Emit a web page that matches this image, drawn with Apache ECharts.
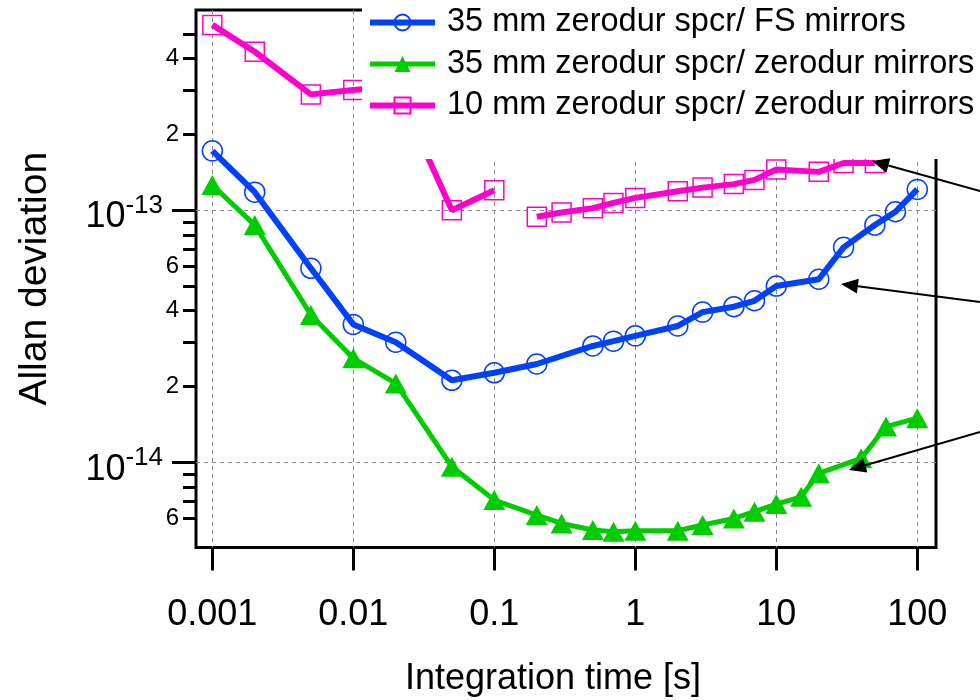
<!DOCTYPE html>
<html><head><meta charset="utf-8">
<script src="https://cdn.jsdelivr.net/npm/echarts@6/dist/echarts.min.js"></script>
<style>html,body{margin:0;padding:0;background:#fff}#c{width:980px;height:700px}</style>
</head><body><div id="c"></div>
<script>
// ---- data ----
const tauBlue  = [0.001,0.002,0.005,0.01,0.02,0.05,0.1,0.2,0.5,0.7,1,2,3,5,7,10,20,30,50,70,100];
const adevBlue = [1.72e-13,1.18e-13,5.89e-14,3.53e-14,3.0e-14,2.12e-14,2.27e-14,2.46e-14,2.90e-14,3.03e-14,3.18e-14,3.48e-14,3.95e-14,4.15e-14,4.38e-14,5.01e-14,5.33e-14,7.13e-14,8.74e-14,9.87e-14,1.21e-13];

const tauGreen  = [0.001,0.002,0.005,0.01,0.02,0.05,0.1,0.2,0.3,0.5,0.7,1,2,3,5,7,10,15,20,40,60,100];
const adevGreen = [1.26e-13,8.74e-14,3.85e-14,2.59e-14,2.06e-14,9.63e-15,7.11e-15,6.2e-15,5.74e-15,5.41e-15,5.32e-15,5.37e-15,5.37e-15,5.66e-15,6.01e-15,6.39e-15,6.85e-15,7.32e-15,9.07e-15,1.04e-14,1.39e-14,1.50e-14];

const tauMagA  = [0.001,0.002,0.005,0.01,0.02,0.05,0.1];
const adevMagA = [5.43e-13,4.25e-13,2.88e-13,3.0e-13,3.1e-13,1.0e-13,1.20e-13];
const tauMagB  = [0.2,0.3,0.5,0.7,1,2,3,5,7,10,20,30,50];
const adevMagB = [9.43e-14,9.8e-14,1.02e-13,1.07e-13,1.12e-13,1.19e-13,1.23e-13,1.27e-13,1.32e-13,1.45e-13,1.42e-13,1.54e-13,1.54e-13];

const seriesNames = ['35 mm zerodur spcr/ FS mirrors','35 mm zerodur spcr/ zerodur mirrors','10 mm zerodur spcr/ zerodur mirrors'];

const xTickValues = [0.001,0.01,0.1,1,10,100];
const xTickLabels = ['0.001','0.01','0.1','1','10','100'];
const yMajorTicks = [1e-14,1e-13];
const yMinorTicks = [6e-15,7e-15,8e-15,9e-15,2e-14,3e-14,4e-14,5e-14,6e-14,7e-14,8e-14,9e-14,2e-13,3e-13,4e-13,5e-13];
const yMinorLabelValues = [6e-15,2e-14,4e-14,6e-14,2e-13,4e-13];
const yMinorLabels = ['6','2','4','6','2','4'];

const X_MIN = 7.66e-4, X_MAX = 135.7, Y_MIN = 4.61e-15, Y_MAX = 6.22e-13;

// ---- styles ----
const BLUE = '#0040ff', GREEN = '#00cc00', MAG = '#ff00cc';
const FONT = 'Liberation Sans, Arial, sans-serif';
const GRIDLINE = {show: true, lineStyle: {color: '#888', width: 1, type: [4, 4]}};
const lg = Math.log10;
const findIdx = (arr, v) => arr.findIndex(t => Math.abs(lg(t) - v) < 1e-6);

const chart = echarts.init(document.getElementById('c'), null, {renderer: 'canvas'});

function arrow(x1, y1, x2, y2) {
  const dx = x2 - x1, dy = y2 - y1, L = Math.hypot(dx, dy);
  const ux = dx / L, uy = dy / L, hl = 17, hw = 7.5;
  const bx = x2 - ux * hl, by = y2 - uy * hl;
  return [
    {type: 'line', z: 100, shape: {x1: x1, y1: y1, x2: bx, y2: by}, style: {stroke: '#000', lineWidth: 2}},
    {type: 'polygon', z: 100, shape: {points: [[x2, y2], [bx - uy * hw, by + ux * hw], [bx + uy * hw, by - ux * hw]]}, style: {fill: '#000'}}
  ];
}

const magData = tauMagA.map((t, i) => [t, adevMagA[i]])
  .concat([[tauMagB[0], '-']])
  .concat(tauMagB.map((t, i) => [t, adevMagB[i]]));

const option = {
  animation: false,
  backgroundColor: '#fff',
  textStyle: {fontFamily: FONT},
  grid: {left: 196, right: 44, top: 10, bottom: 152.5, show: true, borderColor: '#000', borderWidth: 3, backgroundColor: 'transparent', outerBoundsMode: 'none', containLabel: false},
  legend: {
    orient: 'vertical', left: 362, top: 0,
    padding: [6, 20, 37, 5],
    backgroundColor: '#fff',
    itemWidth: 65, itemHeight: 20, itemGap: 8.5,
    selectedMode: false,
    lineStyle: {width: 'inherit'},
    textStyle: {fontSize: 32.5, fontFamily: FONT, color: '#000', lineHeight: 32, padding: [0, 0, 0, 7]},
    data: seriesNames
  },
  xAxis: [
    {type: 'log', min: X_MIN, max: X_MAX, position: 'bottom',
     axisLine: {show: false}, axisTick: {show: false}, axisLabel: {show: false}, splitLine: {show: false},
     name: 'Integration time [s]', nameLocation: 'middle', nameGap: 114,
     nameTextStyle: {fontSize: 36, fontFamily: FONT, color: '#000', padding: [0, 26, 0, 0]}},
    {type: 'value', min: lg(X_MIN), max: lg(X_MAX), position: 'bottom',
     axisLine: {show: false},
     axisTick: {show: true, length: 23, customValues: xTickValues.map(lg), lineStyle: {color: '#000', width: 3}},
     axisLabel: {show: true, customValues: xTickValues.map(lg), margin: 50, fontSize: 36, fontFamily: FONT, color: '#000',
       formatter: v => { const i = findIdx(xTickValues, v); return i >= 0 ? xTickLabels[i] : ''; }},
     splitLine: GRIDLINE}
  ],
  yAxis: [
    {type: 'log', min: Y_MIN, max: Y_MAX, position: 'left',
     axisLine: {show: false}, axisTick: {show: false}, axisLabel: {show: false}, splitLine: {show: false},
     name: 'Allan deviation', nameLocation: 'middle', nameGap: 141,
     nameTextStyle: {fontSize: 39, fontFamily: FONT, color: '#000'}},
    {type: 'value', min: lg(Y_MIN), max: lg(Y_MAX), position: 'left',
     axisLine: {show: false}, splitLine: GRIDLINE,
     axisTick: {show: true, length: 24, customValues: yMajorTicks.map(lg), lineStyle: {color: '#000', width: 3}},
     axisLabel: {show: true, customValues: yMajorTicks.map(lg), margin: 33, color: '#000', padding: [14, 0, 0, 0],
       formatter: v => '{b|10}{s|' + Math.round(v) + '}',
       rich: {b: {fontSize: 36, fontFamily: FONT, color: '#000'},
              s: {fontSize: 26, fontFamily: FONT, color: '#000', verticalAlign: 'top', padding: [0, 0, 23, 0]}}}},
    {type: 'value', min: lg(Y_MIN), max: lg(Y_MAX), position: 'left',
     axisLine: {show: false}, splitLine: {show: false},
     axisTick: {show: true, length: 13, customValues: yMinorTicks.map(lg), lineStyle: {color: '#000', width: 3}},
     axisLabel: {show: true, customValues: yMinorLabelValues.map(lg), margin: 17, fontSize: 24, fontFamily: FONT, color: '#000',
       formatter: v => { const i = findIdx(yMinorLabelValues, v); return i >= 0 ? yMinorLabels[i] : ''; }}}
  ],
  series: [
    {type: 'line', name: seriesNames[0], xAxisIndex: 0, yAxisIndex: 0,
     data: tauBlue.map((t, i) => [t, adevBlue[i]]),
     symbol: 'circle', symbolSize: 20, showSymbol: true, showAllSymbol: true,
     lineStyle: {color: BLUE, width: 6}, color: BLUE,
     itemStyle: {color: 'rgba(255,255,255,0)', borderColor: BLUE, borderWidth: 1.5},
     emphasis: {disabled: true}, z: 3},
    {type: 'line', name: seriesNames[1], xAxisIndex: 0, yAxisIndex: 0,
     data: tauGreen.map((t, i) => [t, adevGreen[i]]),
     symbol: 'triangle', symbolSize: [22, 20], showSymbol: true, showAllSymbol: true,
     lineStyle: {color: GREEN, width: 5}, color: GREEN,
     itemStyle: {color: GREEN, borderWidth: 0},
     emphasis: {disabled: true}, z: 2},
    {type: 'line', name: seriesNames[2], xAxisIndex: 0, yAxisIndex: 0,
     data: magData, connectNulls: false,
     symbol: 'rect', symbolSize: 19, showSymbol: true, showAllSymbol: true,
     lineStyle: {color: MAG, width: 6}, color: MAG,
     itemStyle: {color: 'rgba(255,255,255,0)', borderColor: MAG, borderWidth: 1.5},
     emphasis: {disabled: true}, z: 2}
  ],
  graphic: [].concat(
    arrow(980, 191, 872, 161),
    arrow(980, 302, 841, 284),
    arrow(980, 432, 849, 470)
  )
};
chart.setOption(option);
</script></body></html>
